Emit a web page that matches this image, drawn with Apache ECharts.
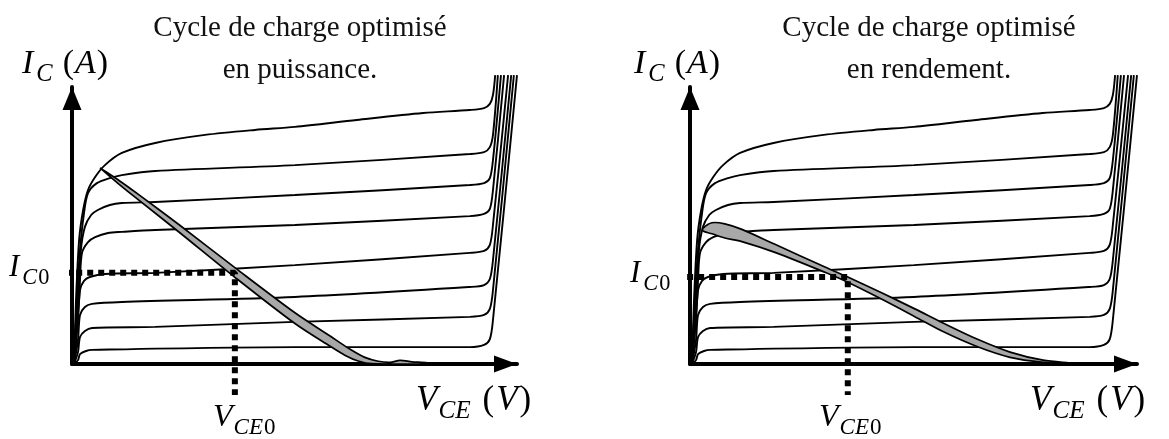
<!DOCTYPE html>
<html><head><meta charset="utf-8">
<script src="https://cdn.jsdelivr.net/npm/echarts@6/dist/echarts.min.js"></script>
<style>html,body{margin:0;background:#fff}#c{width:1169px;height:439px}</style>
</head><body><div id="c"></div>
<script>
// ---- Data (V_CE in % of axis, I_C in % of axis) ----
const curve1 = [[0.45,0],[0.9,23.1],[1.6,44.8],[2.5,55.6],[3.6,62.8],[5.2,67.5],[7.4,71.8],[11.2,76.2],[18.7,79.8],[29.9,82.7],[41.1,84.5],[50.1,85.6],[64.0,88.1],[78.9,90.6],[89.4,91.7],[92.6,92.4],[93.9,93.9],[94.6,97.1],[95.1,104.3]];
const curve2 = [[0.45,0],[1.1,23.1],[1.8,41.2],[2.7,54.5],[3.6,61.7],[5.6,65.3],[8.5,67.1],[11.2,68.2],[18.7,69.7],[50.1,71.8],[89.4,75.8],[92.6,76.5],[93.9,78.3],[94.6,82.7],[95.7,104.3]];
const curve3 = [[0.45,0],[1.35,23.1],[2.0,41.2],[2.9,49.5],[4.3,53.8],[5.8,55.6],[8.5,57.4],[11.2,58.1],[18.7,58.5],[50.1,61.0],[89.4,64.6],[92.6,65.3],[93.9,67.1],[94.6,73.6],[96.4,104.3]];
const curve4 = [[0.45,0],[1.6,23.1],[1.8,30.3],[2.25,40.1],[3.6,44.0],[5.2,45.8],[8.1,47.3],[11.2,47.7],[18.7,48.4],[50.1,50.2],[89.4,53.4],[92.6,54.2],[93.9,56.0],[94.6,62.8],[97.1,104.3]];
const curve5 = [[0.45,0],[1.35,15.9],[1.8,26.7],[2.7,30.0],[4.0,31.4],[7.4,32.5],[18.7,32.9],[50.1,35.7],[89.4,40.1],[92.6,40.8],[93.9,43.0],[94.6,50.2],[98.0,104.3]];
const curve6 = [[0.45,0],[1.35,8.7],[1.8,17.7],[2.9,20.6],[4.5,21.7],[11.2,22.4],[50.1,24.2],[89.4,27.8],[92.6,28.5],[93.9,30.7],[94.6,37.5],[98.7,104.3]];
const curve7 = [[0.45,0],[1.35,4.3],[1.8,9.7],[2.9,11.9],[4.5,13.0],[18.7,13.4],[50.1,15.2],[89.4,17.0],[92.6,17.7],[93.9,19.9],[94.6,26.7],[99.3,104.3]];
const curve8 = [[0.45,0],[1.35,1.4],[1.8,3.6],[3.15,4.7],[4.5,5.1],[50.1,6.1],[89.4,6.1],[92.6,6.9],[93.9,9.0],[94.6,15.9],[100,104.3]];
const characteristicCurves = [curve1, curve2, curve3, curve4, curve5, curve6, curve7, curve8];

// load cycle bands (upper edge, lower edge)
const bandPowerUpper = [[6.3,70.8],[10.8,66.0],[15.3,60.8],[24.3,50.0],[36.6,34.8],[50.1,18.5],[58.0,10.1],[62.5,5.3],[65.8,2.4],[68.8,1.0],[71.5,0.6],[73.7,1.3],[76.4,0.8],[79.8,0.4]];
const bandPowerLower = [[6.3,70.8],[10.8,64.6],[15.3,58.8],[24.3,47.3],[36.6,31.3],[50.1,14.6],[58.0,6.4],[61.3,3.2],[64.3,1.1],[67.4,0.1],[79.8,0]];
const bandEffUpper = [[2.9,49.0],[4.9,51.0],[7.8,50.6],[11.6,48.6],[19.0,43.2],[30.2,35.0],[35.3,31.4],[42.5,26.0],[50.3,19.9],[56.6,14.8],[64.2,9.0],[71.6,4.3],[79.0,1.4],[86.1,0.2]];
const bandEffLower = [[2.9,48.0],[4.9,47.0],[7.8,45.5],[11.6,44.2],[19.0,40.3],[30.2,33.1],[35.3,29.5],[42.5,23.7],[50.3,17.1],[56.6,11.7],[64.2,6.3],[71.6,2.4],[79.0,0.6],[86.1,0]];

// operating points [VCE0, IC0] and guide extents [V start, I end]
const operatingPoints = [[36.6, 32.9], [35.3, 31.4]];
const guideExtents = [[-4.0, -11.2], [-3.1, -11.2]];

const titleLines = [['Cycle de charge optimisé', 'en puissance.'], ['Cycle de charge optimisé', 'en rendement.']];

// ---- Layout ----
const grids = [{left:72, top:87, width:445, height:277}, {left:690, top:87, width:447, height:277}];
const bands = [[bandPowerUpper, bandPowerLower], [bandEffUpper, bandEffLower]];

const chart = echarts.init(document.getElementById('c'), null, {renderer:'canvas'});

function axis(i, isX){
  return {
    type:'value', gridIndex:i, min:0, max:100,
    axisLine:{show:true, onZero:false, symbol:['none','triangle'], symbolSize:isX?[17,23]:[19,23], symbolOffset:[0,-11.5], lineStyle:{color:'#000', width:4}},
    axisTick:{show:false}, axisLabel:{show:false}, splitLine:{show:false}
  };
}

const series = [];
[0,1].forEach(p => {
  characteristicCurves.forEach(c => {
    series.push({type:'line', xAxisIndex:p, yAxisIndex:p, data:c, showSymbol:false, smooth:0.3,
      clip:false, lineStyle:{color:'#000', width:1.9}, silent:true, z:2});
  });
  const [up, lo] = bands[p];
  series.push({type:'custom', xAxisIndex:p, yAxisIndex:p, data:[0], clip:false, z:3,
    renderItem:(params, api) => {
      const pts = up.concat(lo.slice().reverse()).map(d => api.coord(d));
      return {type:'polygon', shape:{points:pts, smooth:0.3}, style:{fill:'#a8a8a8', stroke:'#000', lineWidth:1.7}};
    }});
  const op = operatingPoints[p], ge = guideExtents[p];
  series.push({type:'line', xAxisIndex:p, yAxisIndex:p, data:[[ge[0], op[1]],[op[0], op[1]],[op[0], ge[1]]],
    showSymbol:false, clip:false, z:4, lineStyle:{color:'#000', width:6, type:[6,5], cap:'butt'}});
});

// ---- math-style labels ----
const mctx = document.createElement('canvas').getContext('2d');
const MF = '"Liberation Serif"';
function mathLabel(x, baseline, size, parts){
  const children = [];
  let cx = x;
  parts.forEach(pt => {
    const fs = pt.sub ? size*0.72 : size;
    const style = pt.it ? 'italic' : 'normal';
    mctx.font = `${style} ${fs}px ${MF}`;
    const w = mctx.measureText(pt.t).width;
    const by = baseline + (pt.sub ? size*0.22 : 0);
    children.push({type:'text', x:cx, y:by - fs*0.32, style:{text:pt.t, fontSize:fs, fontFamily:'Liberation Serif', fontStyle:style, fill:'#000', align:'left', verticalAlign:'middle'}});
    cx += w + (pt.gap || 0);
  });
  return {type:'group', children};
}
const IC_A = [{t:'I',it:1,gap:3},{t:'C',it:1,sub:1,gap:10},{t:'(',gap:1},{t:'A',it:1,gap:1},{t:')'}];
const IC0 = [{t:'I',it:1,gap:3},{t:'C',it:1,sub:1,gap:1},{t:'0',sub:1}];
const VCE0 = [{t:'V',it:1,gap:1},{t:'CE',it:1,sub:1,gap:1},{t:'0',sub:1}];
const VCE_V = [{t:'V',it:1,gap:1},{t:'CE',it:1,sub:1,gap:12},{t:'(',gap:2},{t:'V',it:1,gap:2},{t:')'}];

const graphics = [
  mathLabel(22, 75, 34, IC_A), mathLabel(9, 278, 31, IC0), mathLabel(213, 428, 32, VCE0), mathLabel(416, 412, 35, VCE_V),
  mathLabel(634, 75, 34, IC_A), mathLabel(630, 284, 31, IC0), mathLabel(819, 428, 32, VCE0), mathLabel(1030, 412, 35, VCE_V)
];

const option = {
  backgroundColor:'#fff',
  animation:false,
  title: titleLines.map((t, i) => ({
    text: t.join('\n'), left: i === 0 ? 295 : 924, top: 2, textAlign:'center',
    textStyle:{fontFamily:'Liberation Serif', fontWeight:'normal', fontSize:29, lineHeight:42, color:'#111'}
  })),
  grid: grids,
  xAxis: [axis(0,true), axis(1,true)],
  yAxis: [axis(0,false), axis(1,false)],
  series,
  graphic: graphics
};
chart.setOption(option);
</script></body></html>
